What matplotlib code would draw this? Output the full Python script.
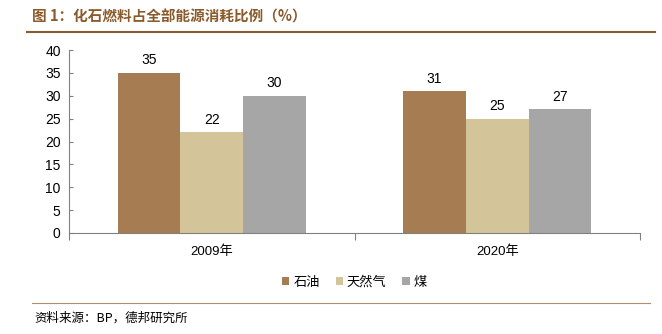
import matplotlib
matplotlib.use("Agg")
import matplotlib.pyplot as plt
import numpy as np

plt.rcParams['font.family'] = ['Liberation Sans', 'Noto Sans CJK SC', 'DejaVu Sans']

categories = ['2009年', '2020年']
series_names = ['石油', '天然气', '煤']
oil = [35, 31]
gas = [22, 25]
coal = [30, 27]
colors = ['#A67C52', '#D4C49A', '#A6A6A6']
yticks = [0, 5, 10, 15, 20, 25, 30, 35, 40]

fig = plt.figure(figsize=(6.62, 3.34), dpi=100)
ax = fig.add_axes([69/662, 1-233/334, (640-69)/662, (233-50)/334])

x = np.arange(len(categories))
w = 0.22
for i, (vals, name, c) in enumerate(zip([oil, gas, coal], series_names, colors)):
    pos = x + (i - 1) * w
    bars = ax.bar(pos, vals, w, color=c, label=name)
    for p, v in zip(pos, vals):
        ax.text(p, v + 1.2, str(v), ha='center', va='bottom', fontsize=10, color='#000000')

ax.set_xlim(-0.5, 1.5)
ax.set_ylim(0, 40)
ax.set_yticks(yticks)
ax.tick_params(axis='y', direction='in', length=3, labelsize=10, color='#808080', pad=6)
ax.set_xticks([-0.5, 0.5, 1.5])
ax.set_xticklabels(['', '', ''])
ax.tick_params(axis='x', direction='out', length=5, color='#808080')
for xc, lab in zip(x, categories):
    ax.text(xc, -2.8, lab, ha='center', va='top', fontsize=9.5,
            family=['Liberation Sans', 'Noto Sans CJK SC'])
for s in ['top', 'right']:
    ax.spines[s].set_visible(False)
for s in ['left', 'bottom']:
    ax.spines[s].set_color('#808080')

leg = ax.legend(loc='upper center', bbox_to_anchor=(0.5, -0.17), ncol=3, frameon=False,
                prop={'family': ['Noto Sans CJK SC'], 'size': 9.5},
                handlelength=0.55, handleheight=0.55, handletextpad=0.3, columnspacing=1.2)

fig.text(32/662, 1-17/334, '图 1：化石燃料占全部能源消耗比例（%）', ha='left', va='center',
         fontsize=10.5, color='#8B5A2B', fontweight='bold',
         family=['Noto Sans CJK SC', 'DejaVu Sans'])
fig.add_artist(plt.Line2D([27/662, 655/662], [1-32/334, 1-32/334], color='#8B5A2B', lw=1.5))
fig.add_artist(plt.Line2D([32/662, 650/662], [1-303/334, 1-303/334], color='#B09070', lw=0.8))
fig.text(34/662, 1-318/334, '资料来源：BP，德邦研究所', ha='left', va='center', fontsize=9,
         family=['Noto Sans CJK SC', 'DejaVu Sans'])

fig.savefig('out.png', dpi=100)
